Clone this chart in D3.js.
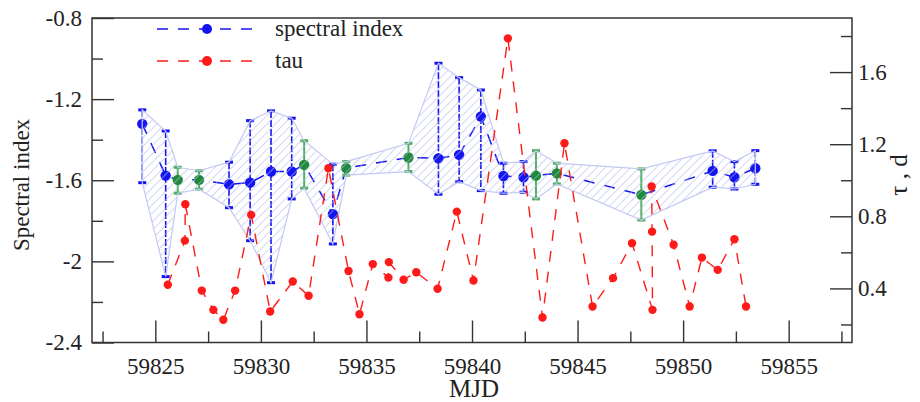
<!DOCTYPE html>
<html>
<head>
<meta charset="utf-8">
<script src="https://cdn.jsdelivr.net/npm/d3@7"></script>
<style>
  body { margin: 0; background: #fff; }
  text { font-family: "Liberation Serif", "Times New Roman", serif; fill: #222; }
</style>
</head>
<body>
<div id="chart"></div>
<script>
// spectral index points (MJD, value, upper end, lower end, colour group)
var spMjd = [59824.38, 59825.49, 59826.06, 59827.07, 59828.49, 59829.49, 59830.48, 59831.46,
             59832.05, 59833.41, 59834.04, 59836.99, 59838.41, 59839.39, 59840.42, 59841.49,
             59842.44, 59843.03, 59844.02, 59848.02, 59851.40, 59852.43, 59853.42];
var spVal = [-1.322, -1.577, -1.598, -1.598, -1.620, -1.612, -1.557, -1.557,
             -1.524, -1.767, -1.540, -1.488, -1.492, -1.475, -1.286, -1.579,
             -1.585, -1.577, -1.566, -1.672, -1.554, -1.585, -1.541];
var spHi  = [-1.253, -1.357, -1.536, -1.553, -1.511, -1.306, -1.258, -1.294,
             -1.405, -1.521, -1.508, -1.418, -1.023, -1.094, -1.155, -1.516,
             -1.508, -1.454, -1.516, -1.544, -1.455, -1.508, -1.454];
var spLo  = [-1.612, -2.075, -1.664, -1.644, -1.735, -1.898, -2.105, -1.692,
             -1.639, -1.914, -1.575, -1.557, -1.669, -1.607, -1.651, -1.664,
             -1.659, -1.692, -1.618, -1.796, -1.634, -1.643, -1.620];
var spGroup = ["b", "b", "g", "g", "b", "b", "b", "b",
               "g", "b", "g", "g", "b", "b", "b", "b",
               "b", "g", "g", "g", "b", "b", "b"];

// tau points, in the order the line joins them
var tauMjd = [59825.59, 59826.40, 59826.42, 59827.20, 59827.75, 59828.22, 59828.78, 59829.54,
              59830.44, 59831.51, 59832.26, 59833.20, 59834.15, 59834.67, 59835.30, 59836.04,
              59836.06, 59836.76, 59837.36, 59838.37, 59839.28, 59840.07, 59841.70, 59843.34,
              59844.38, 59845.71, 59846.68, 59847.58, 59848.55, 59848.53, 59848.51, 59849.55,
              59850.31, 59850.89, 59851.64, 59852.43, 59852.98];
var tauVal = [0.420, 0.665, 0.867, 0.388, 0.281, 0.226, 0.388, 0.808,
              0.272, 0.438, 0.359, 1.067, 0.497, 0.257, 0.535, 0.460,
              0.546, 0.448, 0.490, 0.398, 0.826, 0.444, 1.787, 0.239,
              1.205, 0.300, 0.457, 0.651, 0.281, 0.715, 0.965, 0.642,
              0.300, 0.571, 0.503, 0.673, 0.300];

// axis ticks
var xMajor = [59825, 59830, 59835, 59840, 59845, 59850, 59855];
var xMinor = [59822.5, 59827.5, 59832.5, 59837.5, 59842.5, 59847.5, 59852.5, 59857.5];
var yMajor = [-2.4, -2, -1.6, -1.2, -0.8];
var yMinor = [-2.2, -1.8, -1.4, -1.0];
var rMajor = [0.4, 0.8, 1.2, 1.6];
var rMinor = [0.2, 0.6, 1.0, 1.4, 1.8];

var W = 920, H = 402;
var plotL = 92, plotR = 852, plotT = 18, plotB = 342.5;
var serif = '"Liberation Serif", "Times New Roman", serif';

var blue = "#1414f0", red = "#ff1a1a", green = "#1f8a3a", greenBar = "#4fae5f";

var svg = d3.select("#chart").append("svg")
    .attr("width", W)
    .attr("height", H);

var x = d3.scaleLinear().domain([59822, 59858]).range([plotL, plotR]);
var y = d3.scaleLinear().domain([-2.4, -0.8]).range([plotB, plotT]);
var yR = d3.scaleLinear().domain([0.1, 1.9]).range([plotB, plotT]);

// hatch pattern for the error band
var defs = svg.append("defs");
defs.append("pattern")
    .attr("id", "hatch")
    .attr("patternUnits", "userSpaceOnUse")
    .attr("width", 6)
    .attr("height", 6)
    .attr("patternTransform", "rotate(45)")
  .append("line")
    .attr("x1", 0).attr("y1", 0)
    .attr("x2", 0).attr("y2", 6)
    .attr("stroke", "#b4bcef")
    .attr("stroke-width", 1.2);

var sp = spMjd.map(function(d, i) {
  return {mjd: d, v: spVal[i], hi: spHi[i], lo: spLo[i], g: spGroup[i]};
});
var tau = tauMjd.map(function(d, i) { return {mjd: d, v: tauVal[i]}; });

// axes: ticks point inward
function styleAxis(g) {
  g.attr("font-family", serif);
  g.select(".domain").remove();
  g.selectAll(".tick line").attr("stroke", "#333").attr("stroke-width", 1.4);
  g.selectAll("text")
      .style("font-family", serif)
      .style("font-size", "23px")
      .attr("fill", "#222");
}

svg.append("g")
    .attr("transform", "translate(0," + plotB + ")")
    .call(d3.axisBottom(x).tickValues(xMajor).tickSize(-22).tickPadding(15).tickFormat(d3.format("d")))
    .call(styleAxis);
svg.append("g")
    .attr("transform", "translate(0," + plotB + ")")
    .call(d3.axisBottom(x).tickValues(xMinor).tickSize(-11).tickFormat(""))
    .call(styleAxis);

svg.append("g")
    .attr("transform", "translate(" + plotL + ",0)")
    .call(d3.axisLeft(y).tickValues(yMajor).tickSize(-22).tickPadding(10).tickFormat(function(d) { return String(d); }))
    .call(styleAxis);
svg.append("g")
    .attr("transform", "translate(" + plotL + ",0)")
    .call(d3.axisLeft(y).tickValues(yMinor).tickSize(-11).tickFormat(""))
    .call(styleAxis);

svg.append("g")
    .attr("transform", "translate(" + plotR + ",0)")
    .call(d3.axisRight(yR).tickValues(rMajor).tickSize(-22).tickPadding(6).tickFormat(d3.format(".1f")))
    .call(styleAxis);
svg.append("g")
    .attr("transform", "translate(" + plotR + ",0)")
    .call(d3.axisRight(yR).tickValues(rMinor).tickSize(-11).tickFormat(""))
    .call(styleAxis);

// frame
svg.append("rect")
    .attr("x", plotL).attr("y", plotT)
    .attr("width", plotR - plotL).attr("height", plotB - plotT)
    .attr("fill", "none")
    .attr("stroke", "#333")
    .attr("stroke-width", 1.5);

// axis titles
svg.append("text")
    .attr("x", (plotL + plotR) / 2 + 2)
    .attr("y", 397)
    .attr("text-anchor", "middle")
    .style("font-family", serif)
    .style("font-size", "25px")
    .text("MJD");

svg.append("text")
    .attr("transform", "translate(29,185) rotate(-90)")
    .attr("text-anchor", "middle")
    .style("font-family", serif)
    .style("font-size", "23px")
    .text("Spectral index");

svg.append("text")
    .attr("transform", "translate(907,175) rotate(-90)")
    .attr("text-anchor", "middle")
    .style("font-family", serif)
    .style("font-size", "25px")
    .text("τ , d");

// spectral index: dashed line, error bars, markers
svg.append("path")
    .datum(sp)
    .attr("fill", "none")
    .attr("stroke", blue)
    .attr("stroke-width", 1.5)
    .attr("stroke-dasharray", "11,10")
    .attr("d", d3.line().x(function(d) { return x(d.mjd); }).y(function(d) { return y(d.v); }));

var bars = svg.append("g").selectAll("g")
    .data(sp)
    .enter().append("g");

bars.append("line")
    .attr("x1", function(d) { return x(d.mjd); })
    .attr("x2", function(d) { return x(d.mjd); })
    .attr("y1", function(d) { return y(d.hi); })
    .attr("y2", function(d) { return y(d.lo); })
    .attr("stroke", function(d) { return d.g == "b" ? blue : greenBar; })
    .attr("stroke-width", function(d) { return d.g == "b" ? 1.6 : 2; })
    .attr("stroke-dasharray", function(d) { return d.g == "b" ? "7,2" : null; });

["hi", "lo"].forEach(function(k) {
  bars.append("rect")
      .attr("x", function(d) { return x(d.mjd) - 4; })
      .attr("y", function(d) { return y(d[k]) - 1.5; })
      .attr("width", 8)
      .attr("height", 3)
      .attr("fill", function(d) { return d.g == "b" ? blue : greenBar; });
});

bars.append("circle")
    .attr("cx", function(d) { return x(d.mjd); })
    .attr("cy", function(d) { return y(d.v); })
    .attr("r", 5.2)
    .attr("fill", function(d) { return d.g == "b" ? blue : green; });

// hatched error band drawn over the markers
var band = sp.map(function(d) { return [x(d.mjd), y(d.hi)]; })
    .concat(sp.slice().reverse().map(function(d) { return [x(d.mjd), y(d.lo)]; }));

svg.append("path")
    .datum(band)
    .attr("fill", "url(#hatch)")
    .attr("stroke", "#c3c9f4")
    .attr("stroke-width", 1.2)
    .attr("d", d3.line().curve(d3.curveLinearClosed));

// tau series
svg.append("path")
    .datum(tau)
    .attr("fill", "none")
    .attr("stroke", red)
    .attr("stroke-width", 1.4)
    .attr("stroke-dasharray", "11,10")
    .attr("d", d3.line().x(function(d) { return x(d.mjd); }).y(function(d) { return yR(d.v); }));

svg.append("g").selectAll("circle")
    .data(tau)
    .enter().append("circle")
    .attr("cx", function(d) { return x(d.mjd); })
    .attr("cy", function(d) { return yR(d.v); })
    .attr("r", 4.2)
    .attr("fill", red);

// legend
var legend = [
  {label: "spectral index", color: blue, y: 29},
  {label: "tau", color: red, y: 61}
];
var lg = svg.append("g").selectAll("g")
    .data(legend)
    .enter().append("g");

lg.append("line")
    .attr("x1", 157).attr("x2", 256)
    .attr("y1", function(d) { return d.y; })
    .attr("y2", function(d) { return d.y; })
    .attr("stroke", function(d) { return d.color; })
    .attr("stroke-width", 1.4)
    .attr("stroke-dasharray", "11,10");

lg.append("circle")
    .attr("cx", 207)
    .attr("cy", function(d) { return d.y; })
    .attr("r", 5)
    .attr("fill", function(d) { return d.color; });

lg.append("text")
    .attr("x", 275)
    .attr("y", function(d) { return d.y; })
    .attr("dy", "0.3em")
    .style("font-family", serif)
    .style("font-size", "23px")
    .text(function(d) { return d.label; });
</script>
</body>
</html>
